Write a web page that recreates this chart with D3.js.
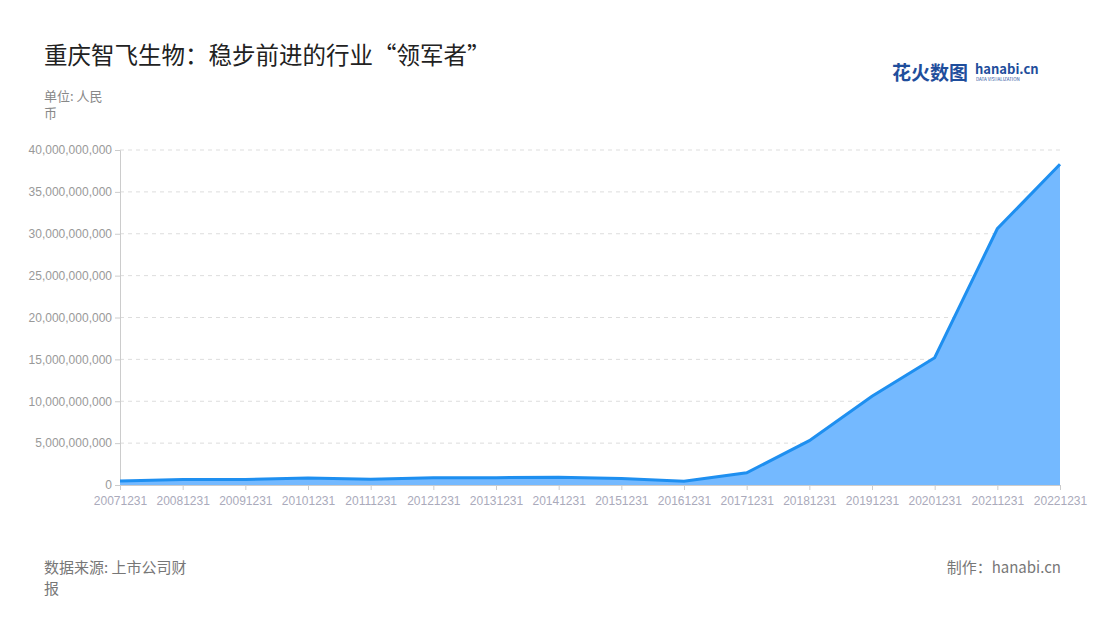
<!DOCTYPE html><html><head><meta charset="utf-8"><script src="https://cdn.jsdelivr.net/npm/d3@7"></script>
<style>body{margin:0;background:#fff;font-family:"Noto Sans CJK SC","Noto Sans",sans-serif}</style></head><body><svg id="c" width="1100" height="620"></svg>
<script>
const categories=["20071231","20081231","20091231","20101231","20111231","20121231","20131231","20141231","20151231","20161231","20171231","20181231","20191231","20201231","20211231","20221231"];
const values=[0.48e9,0.65e9,0.65e9,0.85e9,0.7e9,0.88e9,0.88e9,0.92e9,0.78e9,0.45e9,1.45e9,5.3e9,10.6e9,15.2e9,30.6e9,38.3e9];
const yTicks=[0,5e9,10e9,15e9,20e9,25e9,30e9,35e9,40e9];
const svg=d3.select("#c");
const L=120,R=1060,T=150,B=485;
const x=d3.scalePoint().domain(categories).range([L,R]);
const y=d3.scaleLinear().domain([0,40e9]).range([B,T]);
svg.append("text").attr("x",44).attr("y",64).attr("font-size",23.5).attr("fill","#222").text("重庆智飞生物：稳步前进的行业“领军者”");
svg.append("text").attr("x",44).attr("y",101).attr("font-size",13).attr("fill","#888").text("单位: 人民");
svg.append("text").attr("x",44).attr("y",118).attr("font-size",13).attr("fill","#888").text("币");
const lg=svg.append("g");
lg.append("text").attr("x",892).attr("y",80).attr("font-size",19).attr("font-weight","bold").attr("fill","#1f4e9c").text("花火数图");
lg.append("text").attr("x",975).attr("y",74).attr("font-size",13).attr("font-weight","bold").attr("fill","#1f4e9c").text("hanabi.cn");
lg.append("text").attr("x",976).attr("y",81).attr("font-size",4.5).attr("fill","#1f4e9c").text("DATA VISUALIZATION");
svg.append("g").selectAll("line").data(yTicks.slice(1)).join("line").attr("x1",L).attr("x2",R).attr("y1",d=>y(d)).attr("y2",d=>y(d)).attr("stroke","#ddd").attr("stroke-dasharray","4,4");
const ya=svg.append("g").attr("transform",`translate(${L},0)`).call(d3.axisLeft(y).tickValues(yTicks).tickFormat(d3.format(",")).tickSize(5));
ya.selectAll("text").attr("fill","#999").attr("font-size",12);ya.selectAll("line,path").attr("stroke","#ccc");
const xa=svg.append("g").attr("transform",`translate(0,${B})`).call(d3.axisBottom(x).tickSize(5).tickSizeOuter(0));
xa.selectAll("text").attr("fill","#aab").attr("font-size",12).attr("dy","1em");xa.selectAll("line,path").attr("stroke","#ccc");
svg.append("path").datum(values).attr("fill","#74b9ff").attr("d",d3.area().x((d,i)=>x(categories[i])).y0(B).y1(d=>y(d)));
svg.append("path").datum(values).attr("fill","none").attr("stroke","#1e8ff0").attr("stroke-width",3).attr("d",d3.line().x((d,i)=>x(categories[i])).y(d=>y(d)));
svg.append("text").attr("x",44).attr("y",573).attr("font-size",15).attr("fill","#777").text("数据来源: 上市公司财");
svg.append("text").attr("x",44).attr("y",594).attr("font-size",15).attr("fill","#777").text("报");
svg.append("text").attr("x",1061).attr("y",573).attr("text-anchor","end").attr("font-size",15).attr("fill","#777").text("制作：hanabi.cn");
</script></body></html>
